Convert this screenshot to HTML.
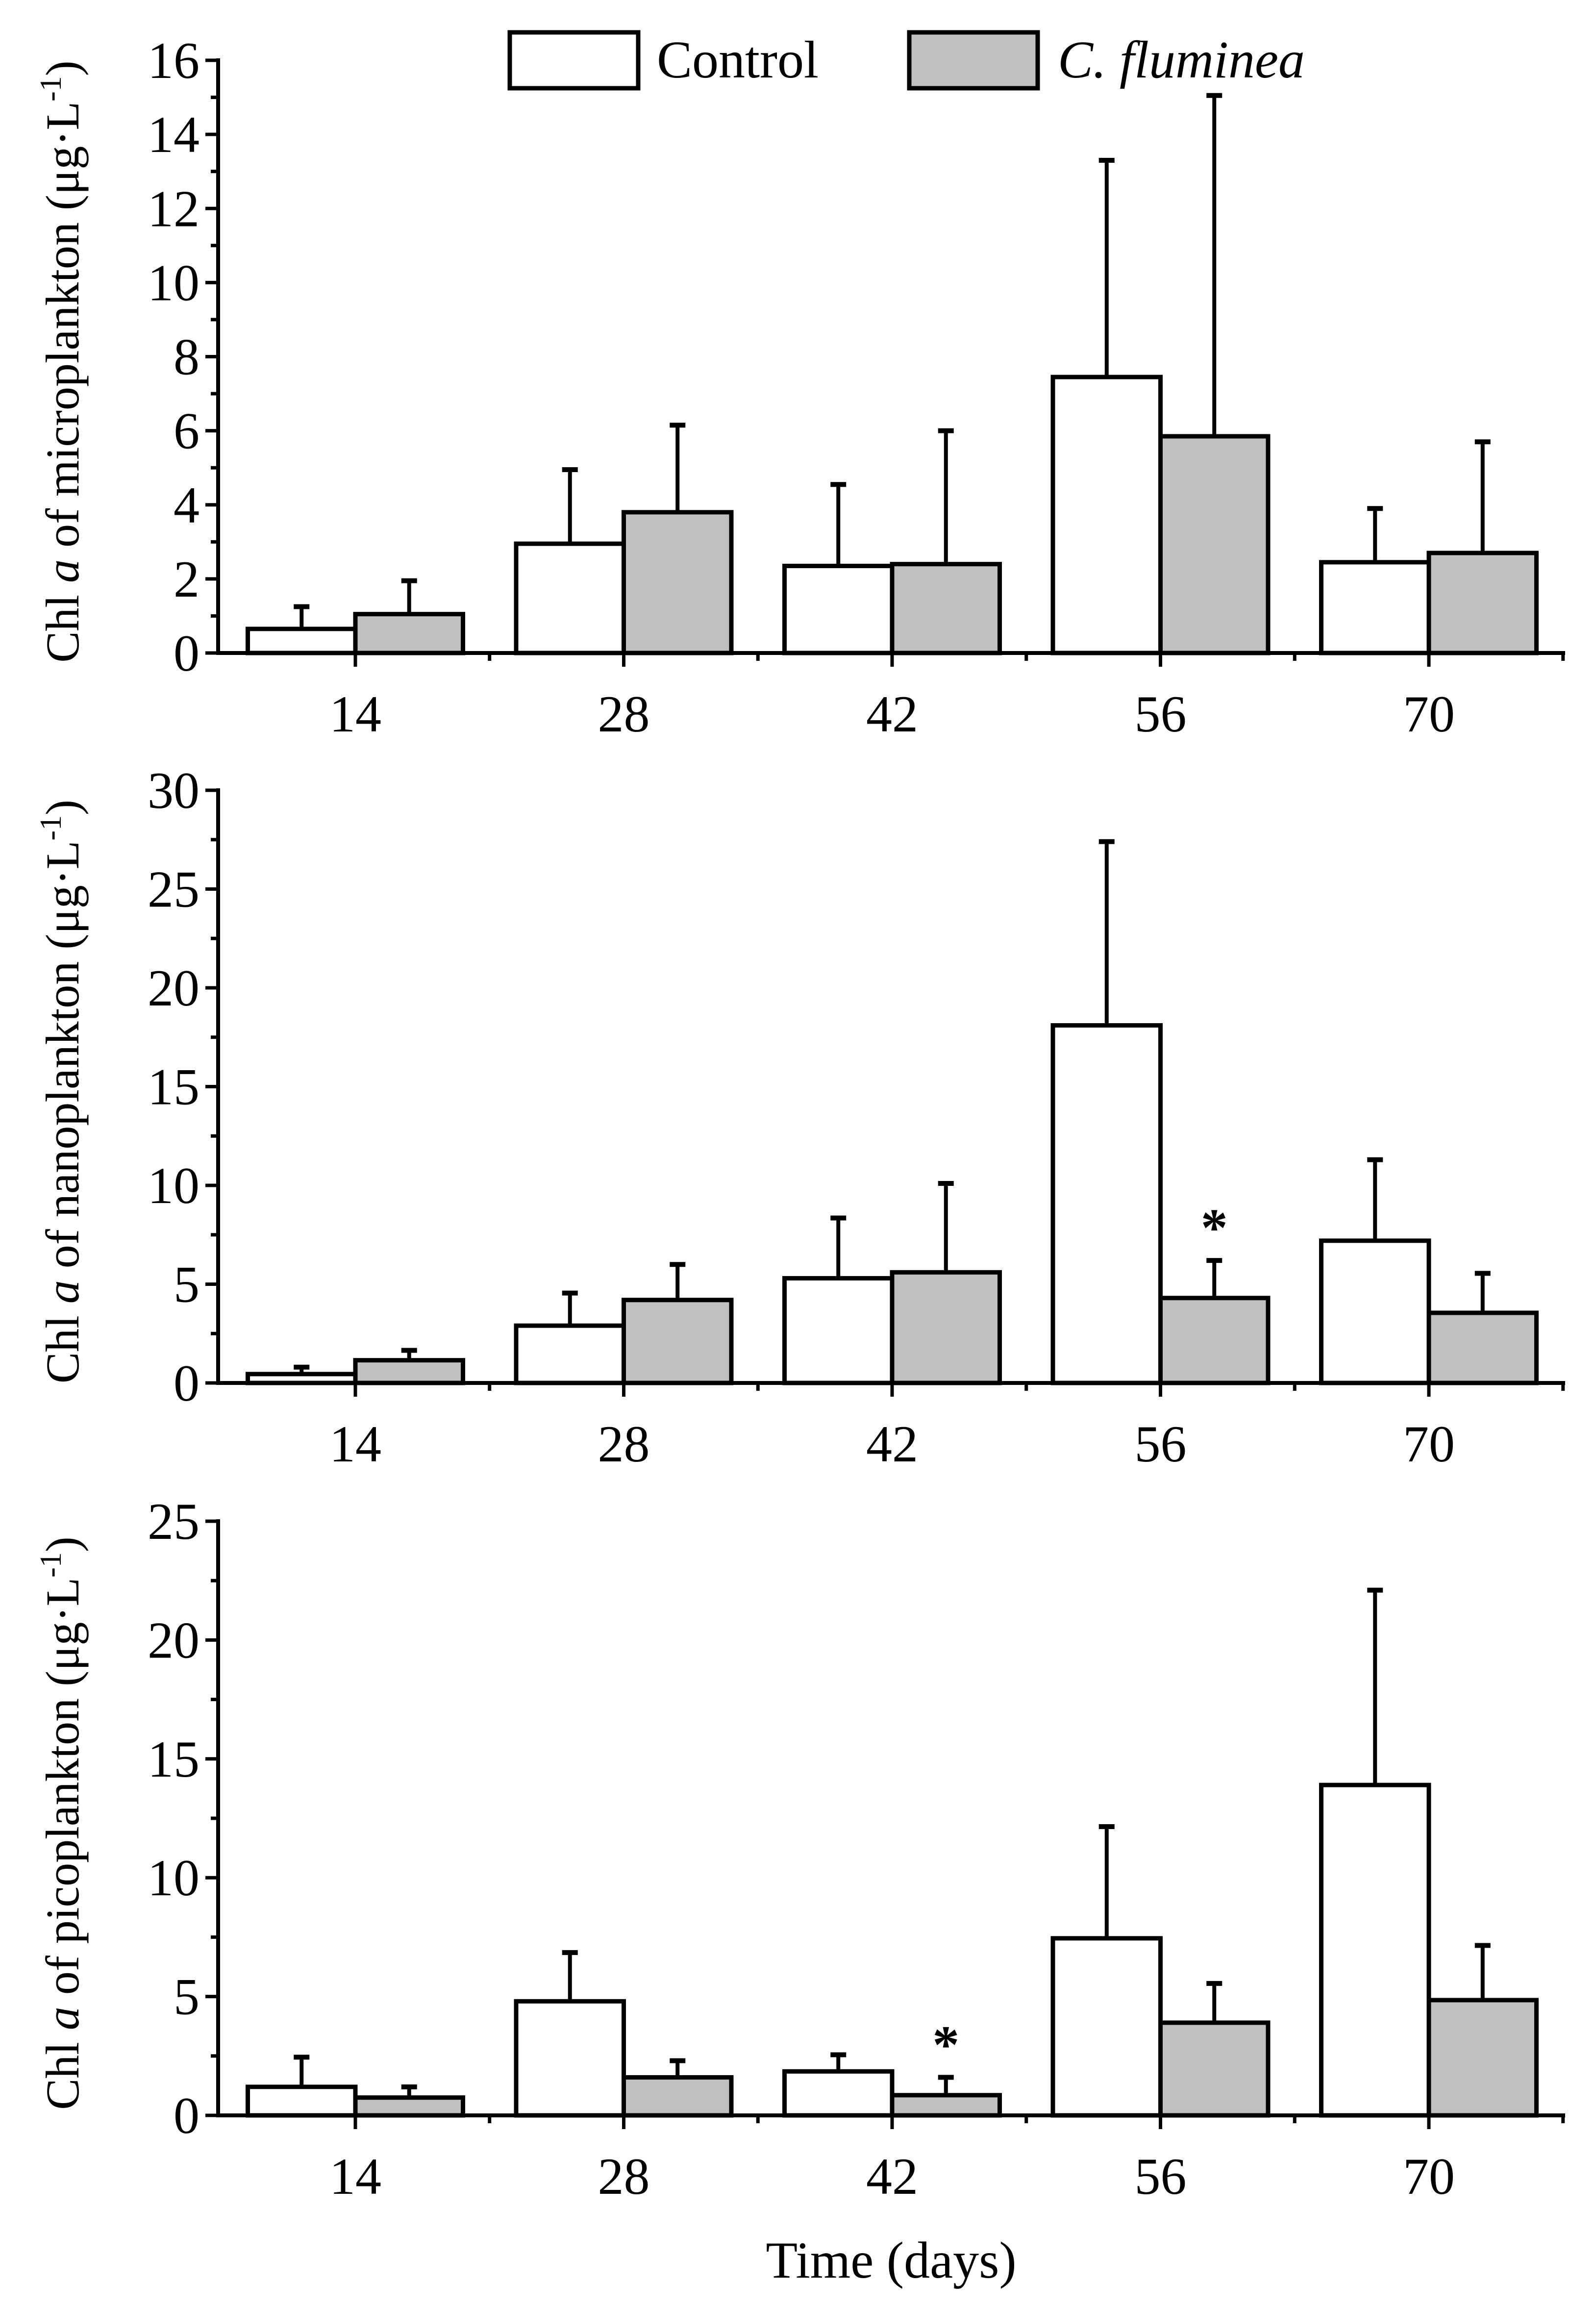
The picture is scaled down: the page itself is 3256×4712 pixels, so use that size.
<!DOCTYPE html>
<html><head><meta charset="utf-8"><style>
html,body{margin:0;padding:0;background:#fff}
svg{display:block}
text{font-family:"Liberation Serif",serif;fill:#000}
</style></head><body>
<svg id="chart" width="3256" height="4712" viewBox="0 0 3256 4712" xmlns="http://www.w3.org/2000/svg">
<g>
<rect x="1040" y="66" width="262" height="114" fill="#fff" stroke="#000" stroke-width="9"/>
<text x="1340" y="158" font-size="108">Control</text>
<rect x="1855" y="66" width="262" height="114" fill="#c0c0c0" stroke="#000" stroke-width="9"/>
<text x="2158" y="158" font-size="108" font-style="italic">C. fluminea</text>
</g>
<text x="1818" y="4646" font-size="106" text-anchor="middle">Time (days)</text>
</svg>
<script>
const categories = ["14","28","42","56","70"];
const microControl = [0.65, 2.95, 2.35, 7.45, 2.45];
const microControlErr = [1.25, 4.95, 4.55, 13.3, 3.9];
const microFlum = [1.05, 3.8, 2.4, 5.85, 2.7];
const microFlumErr = [1.95, 6.15, 6.0, 15.05, 5.7];
const nanoControl = [0.45, 2.9, 5.3, 18.1, 7.2];
const nanoControlErr = [0.8, 4.55, 8.35, 27.4, 11.3];
const nanoFlum = [1.15, 4.2, 5.6, 4.3, 3.55];
const nanoFlumErr = [1.65, 6.0, 10.1, 6.2, 5.55];
const picoControl = [1.2, 4.8, 1.85, 7.45, 13.9];
const picoControlErr = [2.45, 6.85, 2.55, 12.15, 22.1];
const picoFlum = [0.75, 1.6, 0.85, 3.9, 4.85];
const picoFlumErr = [1.2, 2.3, 1.6, 5.55, 7.15];
const microTicks = [0,2,4,6,8,10,12,14,16];
const nanoTicks = [0,5,10,15,20,25,30];
const picoTicks = [0,5,10,15,20,25];
const nanoStars = [null,null,null,"*",null];
const picoStars = [null,null,"*",null,null];

const NS="http://www.w3.org/2000/svg";
const svg=document.getElementById('chart');
function mk(tag,attrs,parent){const e=document.createElementNS(NS,tag);for(const k in attrs)e.setAttribute(k,attrs[k]);(parent||svg).appendChild(e);return e;}

const X0=445, X1=3193, C0=725, STEP=547.5, BW=219.5;
function xc(i){return C0+i*STEP;}

function panel(name,y0,ytop,ymax,ticks,minorStep,ctl,ctlErr,fl,flErr,stars,label){
  const g=mk('g',{});
  
  
  const ys=v=>y0-(v/ymax)*(y0-ytop);
  categories.forEach((c,i)=>{
    const cx=xc(i);
    [[ctl,ctlErr,cx-BW,'#fff','control'],[fl,flErr,cx,'#c0c0c0','cfluminea']].forEach(([vals,errs,x,fill,s])=>{
      const v=vals[i], e=errs[i];
      const el=mk('line',{x1:x+BW/2,x2:x+BW/2,y1:ys(v),y2:ys(e),stroke:'#000','stroke-width':8},g);
      
      
      const cap=mk('line',{x1:x+BW/2-16,x2:x+BW/2+16,y1:ys(e),y2:ys(e),stroke:'#000','stroke-width':10},g);
      
      
      const r=mk('rect',{x:x,y:ys(v),width:BW,height:y0-ys(v),fill:fill,stroke:'#000','stroke-width':9},g);
      
      
    });
    if(stars[i]){
      const t=mk('text',{x:cx+BW/2,y:ys(flErr[i])-30,'font-size':110,'text-anchor':'middle','font-family':'Liberation Sans, sans-serif','font-weight':'bold'},g);
      t.textContent=stars[i];
      
      
    }
  });
  const ya=mk('line',{x1:X0,x2:X0,y1:ytop-4,y2:y0+4,stroke:'#000','stroke-width':8},g);
  
  
  const xa=mk('line',{x1:X0-4,x2:X1,y1:y0,y2:y0,stroke:'#000','stroke-width':8},g);
  
  
  ticks.forEach(t=>{
    const y=ys(t);
    const l=mk('line',{x1:X0-26,x2:X0,y1:y,y2:y,stroke:'#000','stroke-width':7},g);
    
    
    const tx=mk('text',{x:X0-38,y:y+36,'font-size':106,'text-anchor':'end'},g);
    tx.textContent=t;
    
    
  });
  for(let v=minorStep; v<ymax; v+=2*minorStep){
    const m=mk('line',{x1:X0-15,x2:X0,y1:ys(v),y2:ys(v),stroke:'#000','stroke-width':7},g);
    
    
  }
  categories.forEach((c,i)=>{
    const l=mk('line',{x1:xc(i),x2:xc(i),y1:y0,y2:y0+28,stroke:'#000','stroke-width':7},g);
    
    
    const tx=mk('text',{x:xc(i),y:y0+160,'font-size':106,'text-anchor':'middle'},g);
    tx.textContent=c;
    
    
    const mx=xc(i)+STEP/2;
    if(mx<X1){
      const m=mk('line',{x1:mx,x2:mx,y1:y0,y2:y0+16,stroke:'#000','stroke-width':7},g);
      
      
    }
  });
  const cy=(y0+ytop)/2+10;
  const lt=mk('text',{x:0,y:0,'font-size':96,'text-anchor':'middle',transform:'translate(160,'+cy+') rotate(-90)'},g);
  lt.innerHTML='Chl <tspan font-style="italic">a</tspan> of '+label+' (μg·L<tspan dy="-36" font-size="62">-1</tspan><tspan dy="36">)</tspan>';
  
  
}
panel('microplankton',1332,123,16,microTicks,1,microControl,microControlErr,microFlum,microFlumErr,[null,null,null,null,null],'microplankton');
panel('nanoplankton',2821,1612,30,nanoTicks,2.5,nanoControl,nanoControlErr,nanoFlum,nanoFlumErr,nanoStars,'nanoplankton');
panel('picoplankton',4315,3103,25,picoTicks,2.5,picoControl,picoControlErr,picoFlum,picoFlumErr,picoStars,'picoplankton');
</script>
</body></html>
